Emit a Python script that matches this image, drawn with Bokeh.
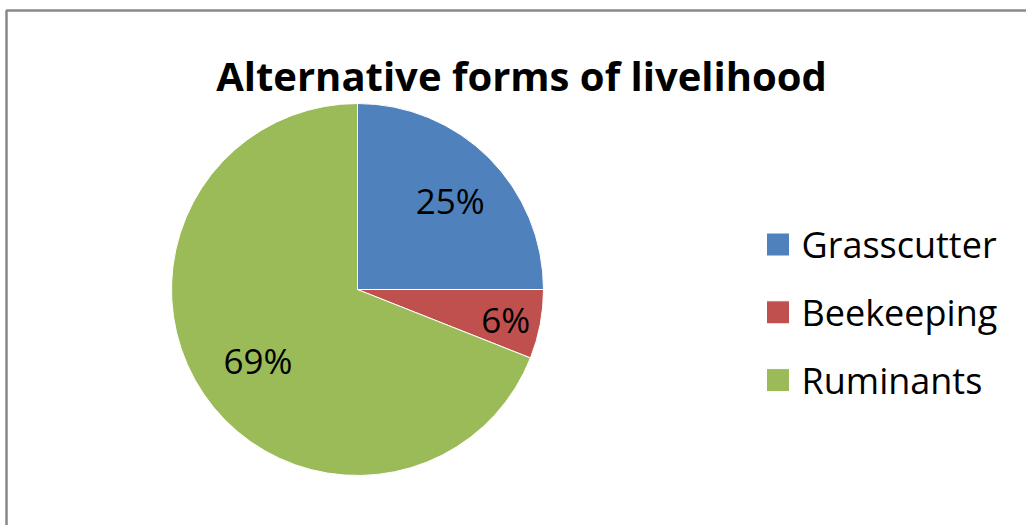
import numpy as np
from bokeh.plotting import figure
from bokeh.models import Range1d, ColumnDataSource
from bokeh.core.properties import value
from bokeh.embed import file_html
from bokeh.resources import INLINE

# ---- data ----
categories = ["Grasscutter", "Beekeeping", "Ruminants"]
shares = [25, 6, 69]
labels = ["25%", "6%", "69%"]
colors = ["#4F81BD", "#C0504D", "#9BBB59"]
title_text = "Alternative forms of livelihood"

# ---- layout (pixel space, y measured from top) ----
W, H = 1026, 525
FONT = "Open Sans"
cx_px, cy_px, R = 357, 289, 186
label_r = [0.69, 0.80, 0.66]

def Y(py):
    return H - py

p = figure(width=W, height=H, x_range=Range1d(0, W), y_range=Range1d(0, H),
           output_backend="svg", toolbar_location=None, min_border=0)
p.axis.visible = False
p.grid.visible = False
p.outline_line_color = None
p.background_fill_color = "white"
p.border_fill_color = "white"

# chart area border
p.quad(left=[6], right=[W + 20], bottom=[-20], top=[Y(10)],
       fill_color=None, line_color="#888888", line_width=2.5)

# pie
vals = np.array(shares, dtype=float)
frac = vals / vals.sum()
cum = np.concatenate([[0], np.cumsum(frac)])
starts = np.pi / 2 - 2 * np.pi * cum[:-1]
ends = np.pi / 2 - 2 * np.pi * cum[1:]
mids = (starts + ends) / 2

src = ColumnDataSource(dict(start=starts, end=ends, color=colors, cat=categories))
p.wedge(x=cx_px, y=Y(cy_px), radius=R, start_angle="start", end_angle="end",
        direction="clock", fill_color="color", line_color="white", line_width=1,
        source=src)

# data labels
lx = cx_px + np.array(label_r) * R * np.cos(mids)
ly = Y(cy_px) + np.array(label_r) * R * np.sin(mids)
p.text(x=lx, y=ly, text=labels, text_font=value(FONT), text_font_size="35px",
       text_align="center", text_baseline="middle", text_color="black",
       x_offset=2, y_offset=2)

# title
p.text(x=[521], y=[Y(75)], text=[title_text], text_font=value(FONT),
       text_font_style="bold", text_font_size="40px", text_align="center",
       text_baseline="alphabetic", text_color="black")

# legend
leg_y0, leg_step = 244, 67.8
idx = np.arange(len(categories))
ley = Y(leg_y0 + idx * leg_step)
p.rect(x=777.5, y=ley, width=23, height=23, fill_color=colors,
       line_color="white", line_width=1)
p.text(x=801, y=ley, text=categories, text_font=value(FONT),
       text_font_size="36px", text_align="left", text_baseline="middle",
       text_color="black")

open("out.html", "w").write(file_html(p, INLINE))
